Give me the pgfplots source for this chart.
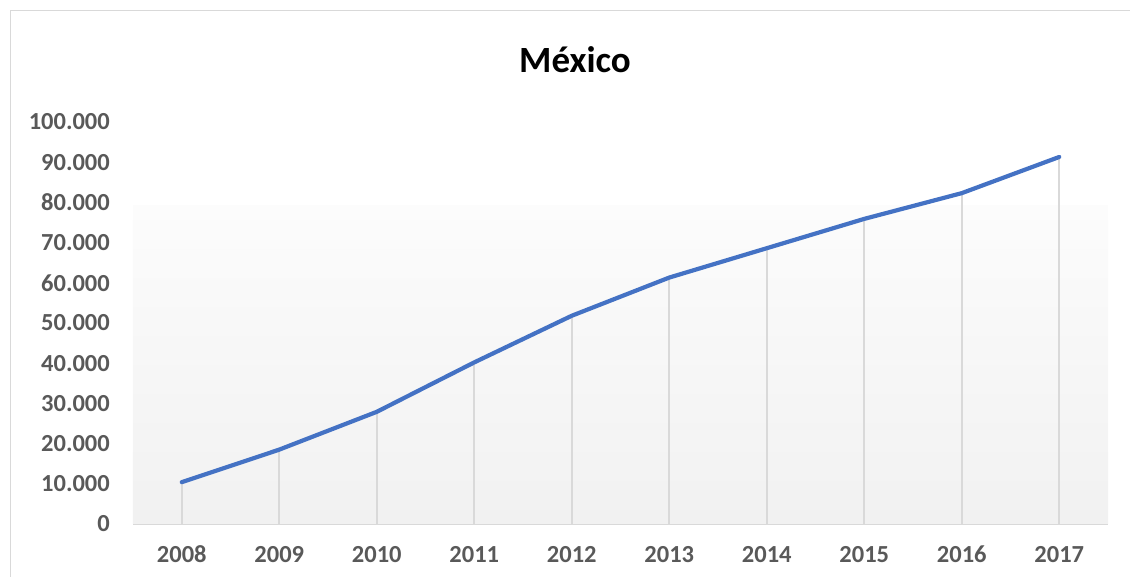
\documentclass[border=0pt]{standalone}
\usepackage{pgfplots}
\pgfplotsset{compat=1.18}
\usepackage{pgfplotstable}
\usepackage{fontspec}
\setmainfont{Carlito}
\definecolor{lineblue}{HTML}{4472C4}
\definecolor{gridgray}{HTML}{D9D9D9}
\definecolor{labgray}{HTML}{595959}
\definecolor{bgtop}{HTML}{FCFCFC}
\definecolor{bgbot}{HTML}{F1F1F1}
\pgfplotstableread{
x y
0 10400
1 18500
2 27900
3 40200
4 51800
5 61300
6 68600
7 75900
8 82300
9 91300
}\mexico
\begin{document}
\begin{tikzpicture}[x=1pt,y=1pt]
\useasboundingbox (0,0) rectangle (1130,577);
\draw[gridgray, line width=1pt] (10,0) -- (10,566) -- (1130,566);
\node[anchor=base, font=\fontsize{37}{40}\selectfont\bfseries, text=black, inner sep=0pt] at (575,504.7) {México};
\begin{axis}[
  at={(133pt,53pt)}, anchor=south west,
  width=975pt, height=402pt, scale only axis,
  xmin=-0.5, xmax=9.5, ymin=0, ymax=100000,
  scaled ticks=false,
  axis x line*=bottom, axis y line*=left,
  x axis line style={draw=gridgray, line width=1.5pt, -},
  y axis line style={draw=none},
  major tick length=0pt,
  xtick={0,1,2,3,4,5,6,7,8,9},
  xticklabels={2008,2009,2010,2011,2012,2013,2014,2015,2016,2017},
  ytick={0,10000,20000,30000,40000,50000,60000,70000,80000,90000,100000},
  yticklabels={0,10.000,20.000,30.000,40.000,50.000,60.000,70.000,80.000,90.000,100.000},
  every tick label/.append style={inner sep=0pt, font=\fontsize{24.5}{26}\selectfont\bfseries, text=labgray},
  yticklabel style={anchor=east, xshift=-23pt},
  xticklabel style={anchor=base, yshift=-38.5pt},
  clip=false,
]
\addplot[draw=none, top color=bgtop, bottom color=bgbot] coordinates {(-0.5,79350) (9.5,79350)} \closedcycle;
\addplot[ycomb, draw=gridgray, line width=1.8pt] table[x=x,y=y] {\mexico};
\addplot[draw=lineblue, line width=4.2pt, line join=round, line cap=round, mark=none] table[x=x,y=y] {\mexico};
\end{axis}
\end{tikzpicture}
\end{document}
